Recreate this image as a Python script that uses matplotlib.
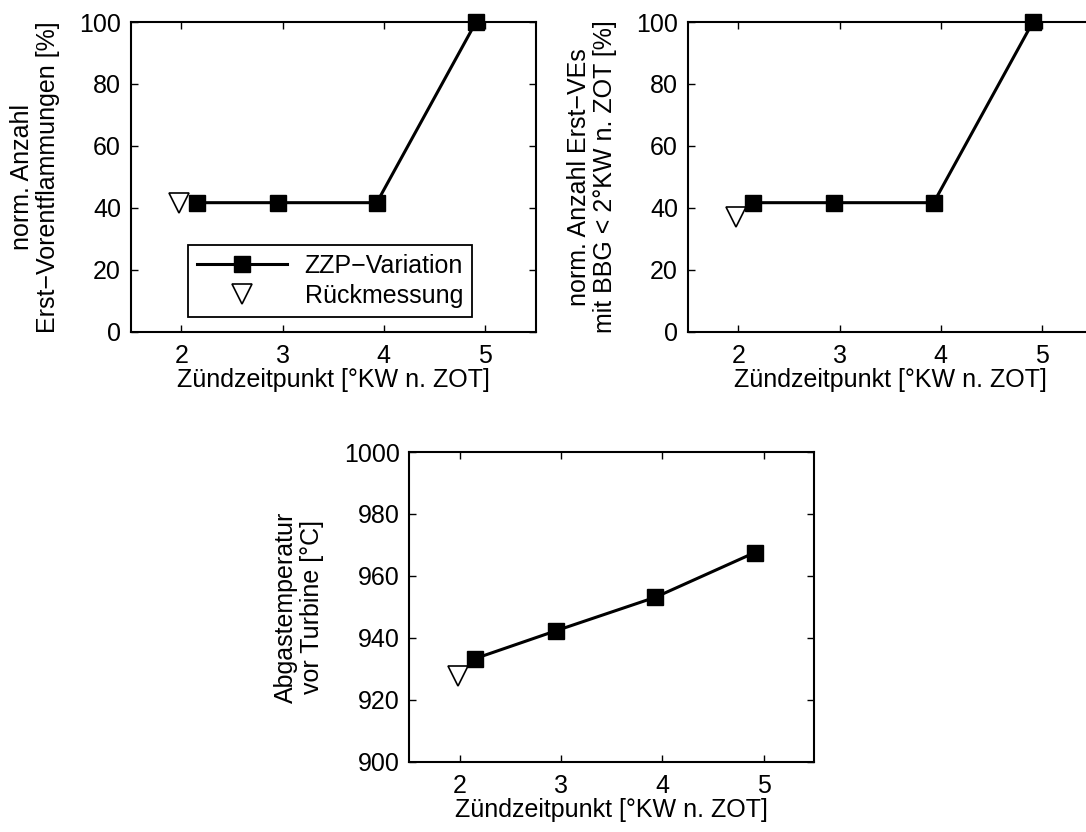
import matplotlib
matplotlib.use('Agg')
import matplotlib.pyplot as plt

plt.rcParams['font.family'] = ['Liberation Sans', 'DejaVu Sans']
plt.rcParams['font.size'] = 18

# Zuendzeitpunkt [degKW n. ZOT]
zzp_x = [2.15, 2.95, 3.93, 4.91]
rueck_x = [1.98]

# norm. Anzahl Erst-Vorentflammungen [%]
vf_zzp = [41.67, 41.67, 41.67, 100.0]
vf_rueck = [41.67]

# norm. Anzahl Erst-VEs mit BBG < 2 degKW [%]
ve_zzp = [41.67, 41.67, 41.67, 100.0]
ve_rueck = [37.0]

# Abgastemperatur vor Turbine [degC]
t_zzp = [933.3, 942.3, 953.1, 967.5]
t_rueck = [927.8]

xlabel = 'Zündzeitpunkt [°KW n. ZOT]'
xticks = [2, 3, 4, 5]


def style_axes(ax, ylim, yticks, ylabel):
    ax.set_xlim(1.5, 5.5)
    ax.set_ylim(*ylim)
    ax.set_xticks(xticks)
    ax.set_yticks(yticks)
    ax.tick_params(direction='in', top=True, right=True, length=5, width=1)
    ax.tick_params(axis='x', pad=8.5)
    ax.tick_params(axis='y', pad=7)
    for s in ax.spines.values():
        s.set_linewidth(1.5)
    ax.set_xlabel(xlabel, labelpad=0)
    ax.set_ylabel(ylabel, labelpad=14, linespacing=1.1)


def draw(ax, y_zzp, y_rueck):
    l1, = ax.plot(zzp_x, y_zzp, color='black', lw=2.2, marker='s', ms=12,
                  label='ZZP−Variation', clip_on=False, zorder=3)
    l2, = ax.plot(rueck_x, y_rueck, ls='none', marker='v', ms=14, mfc='white',
                  mec='black', mew=1.2, label='Rückmessung', clip_on=False, zorder=2)
    return l1, l2


fig = plt.figure(figsize=(10.86, 8.32), dpi=100)
ax1 = fig.add_axes([0.1204, 0.6013, 0.3729, 0.3722])
ax2 = fig.add_axes([0.6332, 0.6013, 0.3729, 0.3722])
ax3 = fig.add_axes([0.3769, 0.0845, 0.3729, 0.3722])

h = draw(ax1, vf_zzp, vf_rueck)
style_axes(ax1, (0, 100), range(0, 101, 20),
           'norm. Anzahl\nErst−Vorentflammungen [%]')
leg = ax1.legend(handles=h, loc='lower left', bbox_to_anchor=(0.142, 0.048),
                 frameon=True, fancybox=False, edgecolor='black', framealpha=1,
                 handlelength=3.6, borderpad=0.35, labelspacing=0.25,
                 handletextpad=0.7, borderaxespad=0)
leg.get_frame().set_linewidth(1.3)

draw(ax2, ve_zzp, ve_rueck)
style_axes(ax2, (0, 100), range(0, 101, 20),
           'norm. Anzahl Erst−VEs\nmit BBG < 2°KW n. ZOT [%]')

draw(ax3, t_zzp, t_rueck)
style_axes(ax3, (900, 1000), range(900, 1001, 20),
           'Abgastemperatur\nvor Turbine [°C]')

fig.savefig('out.png', dpi=100)
